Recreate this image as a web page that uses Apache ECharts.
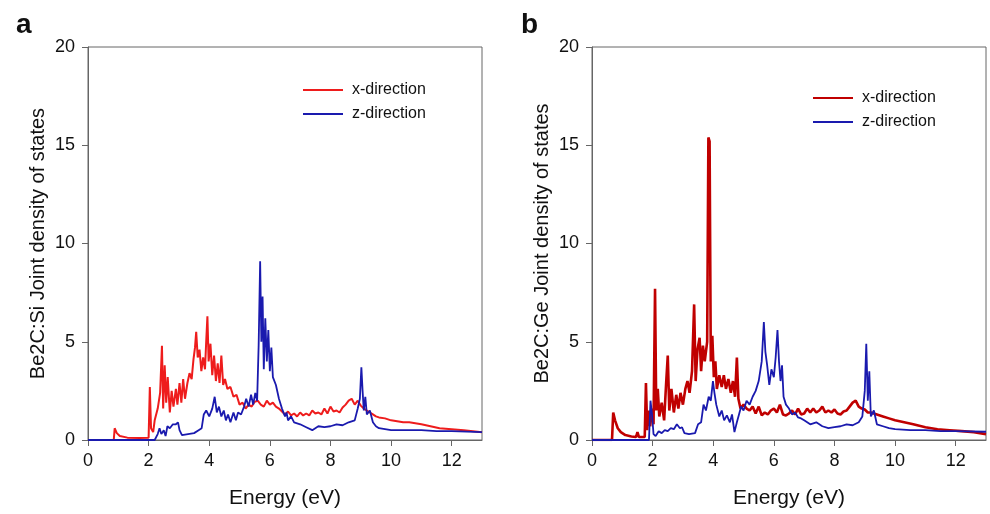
<!DOCTYPE html>
<html>
<head>
<meta charset="utf-8">
<script src="https://cdn.jsdelivr.net/npm/echarts@6/dist/echarts.min.js"></script>
<style>
  html, body { margin: 0; padding: 0; background: #fff; }
  #chart { width: 990px; height: 514px; }
</style>
</head>
<body>
<div id="chart"></div>
<script>
  // energy (eV), joint density of states
  var siX = [[0,0],[0.85,0],[0.88,0.6],[0.95,0.35],[1.05,0.2],[1.3,0.12],[1.7,0.1],[2.0,0.12],[2.04,2.7],[2.08,0.6],[2.15,0.4],[2.2,1.0],
    [2.3,1.6],[2.38,2.4],[2.44,4.8],[2.48,1.6],[2.53,3.8],[2.58,1.9],[2.63,3.2],[2.7,1.4],[2.76,2.5],[2.82,1.7],[2.9,2.6],[2.95,1.8],
    [3.02,2.9],[3.08,1.9],[3.14,3.1],[3.2,2.1],[3.28,2.9],[3.35,3.4],[3.42,3.1],[3.48,4.1],[3.53,4.7],[3.57,5.5],[3.62,4.2],[3.68,4.6],
    [3.74,3.5],[3.8,4.2],[3.86,3.6],[3.9,5.0],[3.94,6.3],[3.98,4.0],[4.04,4.9],[4.1,3.3],[4.16,4.3],[4.22,3.0],[4.28,3.9],[4.34,2.9],
    [4.4,4.3],[4.46,2.8],[4.52,3.1],[4.6,2.6],[4.7,2.7],[4.8,2.2],[4.9,2.3],[5.0,1.8],[5.1,1.9],[5.2,1.6],[5.3,1.8],[5.4,1.7],
    [5.5,1.95],[5.6,2.0],[5.7,1.8],[5.8,1.7],[5.9,2.0],[6.0,1.8],[6.1,1.9],[6.2,1.7],[6.3,1.6],[6.4,1.45],[6.5,1.3],[6.6,1.45],
    [6.7,1.25],[6.8,1.35],[6.9,1.2],[7.0,1.4],[7.1,1.25],[7.2,1.35],[7.3,1.25],[7.4,1.5],[7.5,1.35],[7.6,1.4],[7.7,1.3],[7.8,1.6],
    [7.9,1.35],[8.0,1.7],[8.1,1.45],[8.2,1.5],[8.3,1.4],[8.4,1.65],[8.5,1.8],[8.6,2.0],[8.7,2.1],[8.8,1.8],[8.9,2.0],[9.0,1.75],
    [9.1,1.6],[9.2,1.5],[9.3,1.4],[9.4,1.3],[9.5,1.2],[9.6,1.15],[9.8,1.1],[10.0,1.0],[10.2,0.95],[10.4,0.9],[10.6,0.9],[10.8,0.85],
    [11.0,0.8],[11.3,0.7],[11.6,0.6],[12.0,0.55],[12.4,0.5],[12.7,0.45],[13,0.4]];
  var siZ = [[0,0],[2.2,0],[2.3,0.3],[2.36,0.6],[2.42,0.3],[2.5,0.5],[2.56,0.2],[2.62,0.7],[2.7,0.6],[2.8,0.8],[2.9,0.8],[2.97,0.9],
    [3.02,0.5],[3.1,0.25],[3.3,0.3],[3.5,0.35],[3.65,0.5],[3.75,0.6],[3.82,1.3],[3.9,1.5],[4.0,1.2],[4.1,1.6],[4.18,2.2],[4.25,1.4],
    [4.32,1.7],[4.4,1.2],[4.48,1.5],[4.55,1.0],[4.62,1.3],[4.7,0.9],[4.8,1.4],[4.88,1.0],[4.95,1.4],[5.05,1.3],[5.15,1.7],[5.22,2.1],
    [5.3,1.7],[5.38,2.3],[5.45,1.8],[5.52,2.4],[5.58,2.0],[5.63,4.8],[5.68,9.1],[5.72,5.0],[5.76,7.3],[5.8,3.6],[5.85,6.2],[5.9,4.0],
    [5.95,5.6],[6.0,3.5],[6.05,4.7],[6.1,3.2],[6.2,2.8],[6.3,2.1],[6.4,1.6],[6.5,1.2],[6.55,1.4],[6.6,1.0],[6.7,1.2],[6.8,0.9],
    [6.9,0.85],[7.0,0.8],[7.2,0.65],[7.4,0.5],[7.6,0.7],[7.8,0.65],[8.0,0.7],[8.2,0.8],[8.4,0.75],[8.6,0.9],[8.8,1.0],[8.9,1.6],
    [8.97,2.1],[9.02,3.7],[9.06,2.5],[9.1,1.5],[9.15,2.2],[9.2,1.3],[9.3,1.5],[9.4,0.9],[9.5,0.7],[9.6,0.6],[9.8,0.55],[10.0,0.5],
    [10.5,0.5],[11.0,0.5],[11.5,0.45],[12.0,0.45],[13,0.4]];
  var geX = [[0,0],[0.66,0],[0.7,1.4],[0.76,1.0],[0.85,0.6],[0.95,0.4],[1.1,0.25],[1.3,0.18],[1.45,0.15],[1.5,0.4],[1.55,0.15],[1.74,0.15],
    [1.78,2.9],[1.82,0.5],[1.87,1.5],[1.92,0.7],[1.98,1.6],[2.03,0.8],[2.08,7.7],[2.12,1.5],[2.17,2.6],[2.22,1.2],[2.3,1.9],[2.38,1.0],
    [2.45,3.0],[2.5,4.3],[2.55,1.5],[2.62,2.6],[2.7,1.4],[2.78,2.3],[2.85,1.6],[2.92,2.4],[3.0,1.8],[3.08,2.6],[3.15,3.0],[3.22,2.4],
    [3.3,3.5],[3.37,6.9],[3.42,3.0],[3.48,4.6],[3.55,5.2],[3.6,3.5],[3.66,4.8],[3.72,4.0],[3.8,5.0],[3.84,15.4],[3.88,15.2],[3.92,4.0],
    [3.97,5.3],[4.02,3.2],[4.07,4.0],[4.12,2.6],[4.2,3.3],[4.28,2.7],[4.35,3.3],[4.42,2.6],[4.5,3.1],[4.58,2.4],[4.65,3.0],[4.72,2.2],
    [4.78,4.2],[4.83,2.1],[4.9,1.6],[5.0,1.8],[5.1,1.6],[5.2,1.5],[5.3,1.7],[5.4,1.35],[5.5,1.7],[5.6,1.25],[5.7,1.4],[5.8,1.3],
    [5.9,1.5],[6.0,1.6],[6.1,1.4],[6.2,1.8],[6.3,1.3],[6.4,1.25],[6.5,1.35],[6.6,1.5],[6.7,1.3],[6.8,1.6],[6.9,1.3],[7.0,1.35],
    [7.1,1.6],[7.2,1.4],[7.3,1.6],[7.4,1.4],[7.5,1.5],[7.6,1.7],[7.7,1.4],[7.8,1.5],[7.9,1.4],[8.0,1.55],[8.1,1.35],[8.2,1.3],
    [8.3,1.45],[8.4,1.5],[8.5,1.7],[8.6,1.9],[8.7,2.0],[8.8,1.7],[8.9,1.6],[9.0,1.55],[9.1,1.4],[9.2,1.4],[9.4,1.3],[9.6,1.2],
    [9.8,1.1],[10.0,1.0],[10.3,0.9],[10.6,0.8],[11.0,0.65],[11.4,0.55],[11.8,0.5],[12.2,0.45],[12.6,0.4],[13,0.3]];
  var geZ = [[0,0],[1.88,0],[1.93,2.0],[1.98,1.3],[2.03,0.3],[2.1,0.2],[2.2,0.45],[2.3,0.35],[2.4,0.5],[2.5,0.45],[2.6,0.6],[2.7,0.55],
    [2.8,0.8],[2.9,0.6],[2.97,0.65],[3.05,0.35],[3.2,0.3],[3.4,0.35],[3.5,0.8],[3.6,0.9],[3.68,1.8],[3.76,1.5],[3.85,2.2],[3.92,2.0],
    [3.99,3.0],[4.04,2.4],[4.1,1.8],[4.2,1.2],[4.28,1.5],[4.36,1.0],[4.45,1.25],[4.55,0.9],[4.62,1.3],[4.7,0.4],[4.78,0.9],[4.85,1.3],
    [4.92,1.7],[5.0,1.5],[5.1,2.0],[5.2,1.8],[5.3,2.2],[5.4,2.5],[5.5,3.0],[5.6,4.0],[5.67,6.0],[5.72,4.5],[5.78,3.8],[5.85,2.8],
    [5.92,3.6],[6.0,3.2],[6.06,4.2],[6.12,5.6],[6.17,4.0],[6.22,3.0],[6.27,3.8],[6.32,2.2],[6.4,1.8],[6.5,1.6],[6.6,1.3],[6.7,1.4],
    [6.8,1.15],[6.9,1.1],[7.0,1.0],[7.2,0.8],[7.4,0.9],[7.6,0.7],[7.8,0.6],[8.0,0.65],[8.2,0.7],[8.4,0.8],[8.6,0.75],[8.8,0.9],
    [8.92,1.2],[9.0,2.5],[9.05,4.9],[9.1,2.0],[9.15,3.5],[9.2,1.2],[9.3,1.5],[9.4,0.8],[9.6,0.7],[9.8,0.6],[10.0,0.55],[10.5,0.5],
    [11.0,0.5],[11.5,0.45],[12.0,0.45],[13,0.42]];
  var yLabels = ['Be2C:Si Joint density of states', 'Be2C:Ge Joint density of states'];
  var legendNames = ['x-direction', 'z-direction'];

  var font = 'Liberation Sans, Arial, sans-serif';
  var chart = echarts.init(document.getElementById('chart'));

  function xAxis(i) {
    return {
      type: 'value', gridIndex: i, min: 0, max: 13, interval: 2,
      name: 'Energy (eV)', nameLocation: 'middle', nameGap: 48,
      nameTextStyle: { color: '#111', fontSize: 21, fontFamily: font },
      axisLine: { lineStyle: { color: '#666', width: 1 } },
      axisTick: { inside: false, length: 6, lineStyle: { color: '#666' } },
      axisLabel: { color: '#111', fontSize: 18, fontFamily: font, margin: 12, showMaxLabel: false },
      splitLine: { show: false }
    };
  }
  function yAxis(i) {
    return {
      type: 'value', gridIndex: i, min: 0, max: 20, interval: 5,
      name: yLabels[i], nameLocation: 'middle', nameGap: 40,
      nameTextStyle: { color: '#111', fontSize: 20, fontFamily: font },
      axisLine: { show: true, lineStyle: { color: '#666', width: 1 } },
      axisTick: { show: true, length: 6, lineStyle: { color: '#666' } },
      axisLabel: { color: '#111', fontSize: 18, fontFamily: font, margin: 13 },
      splitLine: { show: false }
    };
  }
  function lineSeries(name, data, i, color, width) {
    return {
      name: name, type: 'line', xAxisIndex: i, yAxisIndex: i, data: data,
      showSymbol: false, animation: false,
      lineStyle: { color: color, width: width }, itemStyle: { color: color }
    };
  }
  function legend(left, top, colors) {
    return {
      orient: 'vertical', left: left, top: top, itemWidth: 40, itemHeight: 2, itemGap: 8,
      icon: 'rect', selectedMode: false,
      textStyle: { color: '#111', fontSize: 16, fontFamily: font, padding: [0, 0, 0, 4] },
      data: [
        { name: legendNames[0], itemStyle: { color: colors[0] } },
        { name: legendNames[1], itemStyle: { color: colors[1] } }
      ]
    };
  }

  var option = {
    backgroundColor: '#fff',
    title: [
      { text: 'a', left: 11, top: 6, textStyle: { fontSize: 28, fontWeight: 'bold', color: '#111', fontFamily: font } },
      { text: 'b', left: 516, top: 6, textStyle: { fontSize: 28, fontWeight: 'bold', color: '#111', fontFamily: font } }
    ],
    grid: [
      { left: 88, top: 47, width: 394, height: 396, show: true, borderColor: '#666', borderWidth: 1 },
      { left: 592, top: 47, width: 394, height: 396, show: true, borderColor: '#666', borderWidth: 1 }
    ],
    legend: [
      legend(298, 77, ['#ee1c1c', '#1a1aae']),
      legend(808, 85, ['#c00000', '#1a1aae'])
    ],
    xAxis: [xAxis(0), xAxis(1)],
    yAxis: [yAxis(0), yAxis(1)],
    series: [
      lineSeries(legendNames[0], siX, 0, '#ee1c1c', 2),
      lineSeries(legendNames[1], siZ, 0, '#1a1aae', 1.8),
      lineSeries(legendNames[0], geX, 1, '#c00000', 2.6),
      lineSeries(legendNames[1], geZ, 1, '#1a1aae', 1.8)
    ]
  };
  chart.setOption(option);
</script>
</body>
</html>
